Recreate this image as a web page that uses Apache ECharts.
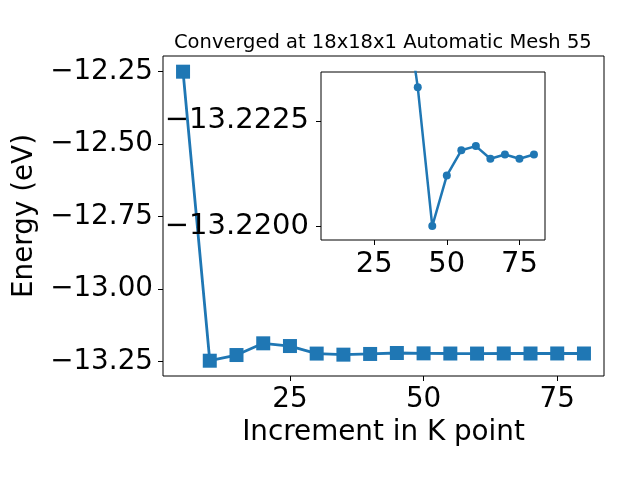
<!DOCTYPE html>
<html><head><meta charset="utf-8">
<script src="https://cdn.jsdelivr.net/npm/echarts@6/dist/echarts.min.js"></script>
<style>html,body{margin:0;padding:0;background:#fff}#c{width:640px;height:480px}</style>
</head><body><div id="c"></div>
<script>
const titleText = 'Converged at 18x18x1 Automatic Mesh 55';
const xName = 'Increment in K point';
const yName = 'Energy (eV)';
const kPoints = [5,10,15,20,25,30,35,40,45,50,55,60,65,70,75,80];
const energies = [-12.25,-13.2466,-13.227,-13.1866,-13.196,-13.222,-13.2257,-13.2233,-13.2200,-13.2212,-13.2218,-13.2219,-13.2216,-13.2217,-13.2216,-13.2217];
const mainXTicks = [25,50,75];
const mainYTicks = [-13.25,-13.00,-12.75,-12.50,-12.25];
const insetXTicks = [25,50,75];
const insetYTicks = [-13.2225,-13.2200];
const insetFromK = 35;

const FONT = 'DejaVu Sans';
const C = '#1f77b4';
const minus = (v, d) => (v < 0 ? '\u2212' : '') + Math.abs(v).toFixed(d);
const mainData = kPoints.map((k, i) => [k, energies[i]]);
const insetData = mainData.filter(p => p[0] >= insetFromK);

const chart = echarts.init(document.getElementById('c'), null, {renderer: 'canvas'});
const tickCommon = {show: true, inside: false, length: 5, lineStyle: {color: '#000', width: 1}};
chart.setOption({
  animation: false,
  backgroundColor: '#fff',
  textStyle: {fontFamily: FONT},
  title: {
    text: titleText, left: 169, top: 28,
    textStyle: {fontFamily: FONT, fontSize: 19.5, fontWeight: 'normal', color: '#000'}
  },
  grid: [
    {left: 163, top: 56, width: 441, height: 320, show: true, borderColor: '#000', borderWidth: 1, backgroundColor: '#fff', containLabel: false},
    {left: 321, top: 72, width: 224, height: 168, show: true, borderColor: '#000', borderWidth: 1, backgroundColor: '#fff', containLabel: false, z: 3}
  ],
  xAxis: [
    {type: 'value', gridIndex: 0, min: 1.25, max: 83.75,
     axisLine: {show: false}, splitLine: {show: false},
     axisTick: Object.assign({customValues: mainXTicks}, tickCommon),
     axisLabel: {customValues: mainXTicks, margin: 10, fontSize: 27.8, color: '#000', fontFamily: FONT},
     name: xName, nameLocation: 'middle', nameGap: 42,
     nameTextStyle: {fontSize: 27.8, color: '#000', fontFamily: FONT}},
    {type: 'value', gridIndex: 1, min: 6.7, max: 83.8, z: 4,
     axisLine: {show: false}, splitLine: {show: false},
     axisTick: Object.assign({customValues: insetXTicks}, tickCommon),
     axisLabel: {customValues: insetXTicks, margin: 10, fontSize: 29, color: '#000', fontFamily: FONT}}
  ],
  yAxis: [
    {type: 'value', gridIndex: 0, min: -13.2993, max: -12.1959,
     axisLine: {show: false}, splitLine: {show: false},
     axisTick: Object.assign({customValues: mainYTicks}, tickCommon),
     axisLabel: {customValues: mainYTicks, margin: 10, fontSize: 27.8, color: '#000', fontFamily: FONT,
                 formatter: v => minus(v, 2)},
     name: yName, nameLocation: 'middle', nameGap: 108,
     nameTextStyle: {fontSize: 27.8, color: '#000', fontFamily: FONT}},
    {type: 'value', gridIndex: 1, inverse: true, min: -13.22366, max: -13.21967, z: 4,
     axisLine: {show: false}, splitLine: {show: false},
     axisTick: Object.assign({customValues: insetYTicks}, tickCommon),
     axisLabel: {customValues: insetYTicks, margin: 12, fontSize: 29, color: '#000', fontFamily: FONT,
                 formatter: v => minus(v, 4)}}
  ],
  series: [
    {type: 'line', xAxisIndex: 0, yAxisIndex: 0, data: mainData, z: 2,
     symbol: 'rect', symbolSize: 14, lineStyle: {color: C, width: 2.8},
     itemStyle: {color: C}, clip: true},
    {type: 'line', xAxisIndex: 1, yAxisIndex: 1, data: insetData, z: 3,
     symbol: 'circle', symbolSize: 8, lineStyle: {color: C, width: 2.5},
     itemStyle: {color: C}, clip: true}
  ]
});
</script></body></html>
